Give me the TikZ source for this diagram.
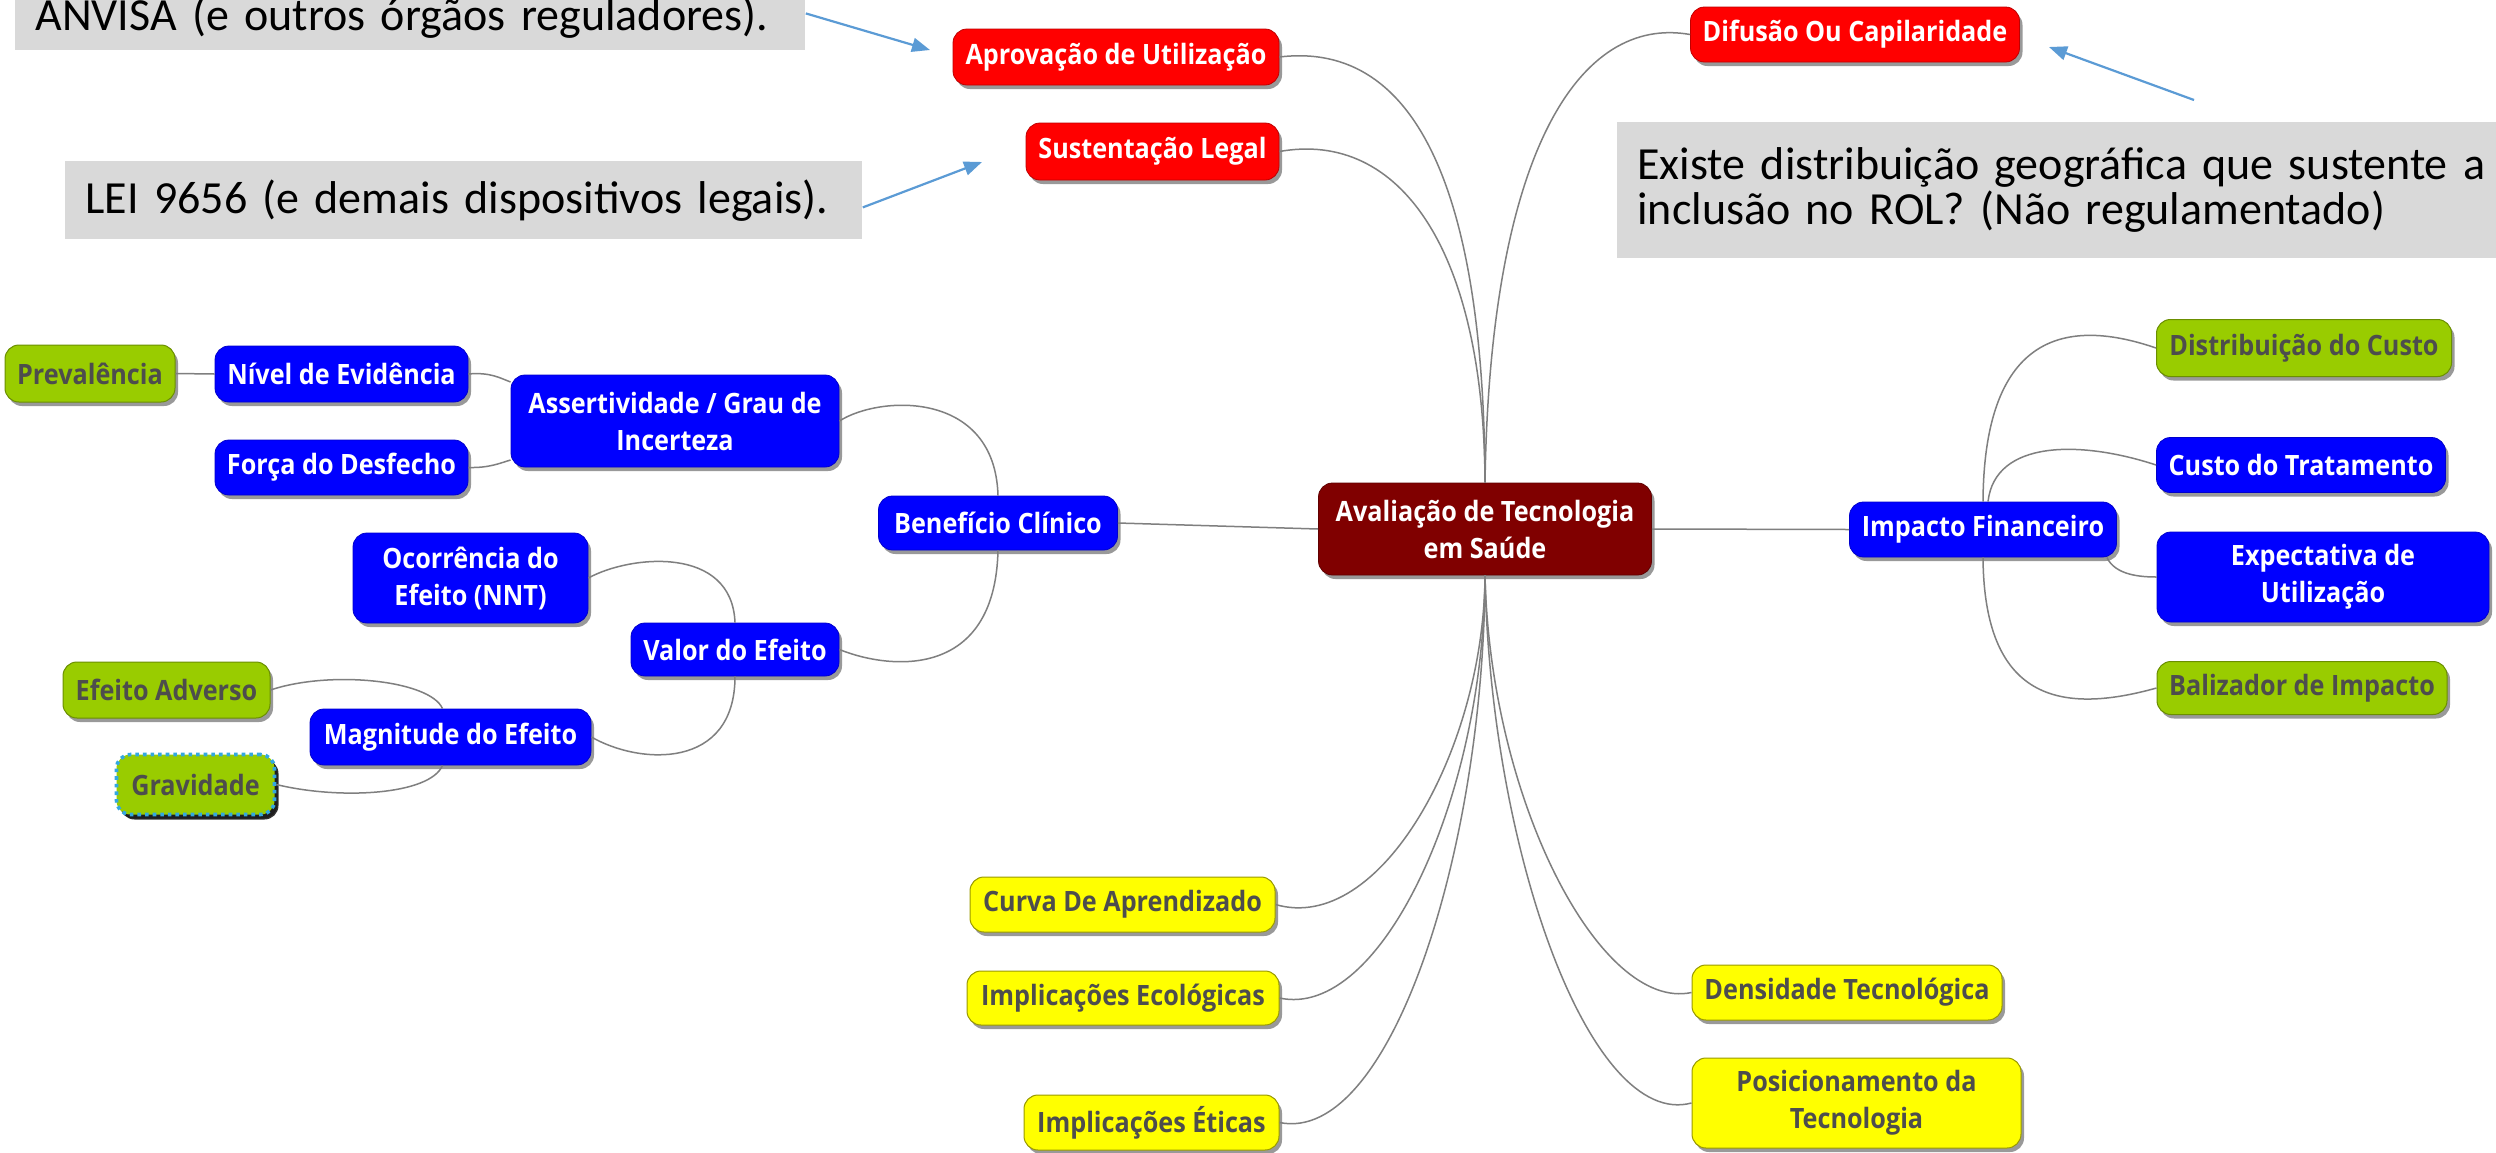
\documentclass[tikz,border=0pt]{standalone}
\usepackage{fontspec}
\setmainfont{Open Sans}
\newfontfamily\mmfont[FakeStretch=0.9]{Open Sans}
\newfontfamily\callfont{Carlito}
\usetikzlibrary{arrows.meta,shadows}
\definecolor{mred}{HTML}{FF0000}
\definecolor{mblue}{HTML}{0000FF}
\definecolor{mgreen}{HTML}{99CC00}
\definecolor{myellow}{HTML}{FFFF00}
\definecolor{mmaroon}{HTML}{800000}
\definecolor{mtext}{HTML}{4D4D4D}
\definecolor{callgray}{HTML}{D9D9D9}
\definecolor{arrowblue}{HTML}{5B9BD5}
\definecolor{linkgray}{HTML}{7F7F7F}
\definecolor{dotblue}{HTML}{33A8E0}
\tikzset{
  wh/.style 2 args={minimum width=#1*0.5pt, minimum height=#2*0.5pt},
  mm/.style={rounded corners=7pt, inner sep=0pt, align=center,
    font=\mmfont\bfseries\fontsize{14}{18.5}\selectfont,
    drop shadow={shadow xshift=1.5pt, shadow yshift=-2pt, opacity=0.4, fill=black}},
  redn/.style={mm, fill=mred, draw=mred!75!black, line width=0.4pt, text=white},
  bluen/.style={mm, fill=mblue, draw=mblue!80!black, line width=0.4pt, text=white},
  centern/.style={mm, fill=mmaroon, draw=mmaroon!75!black, line width=0.4pt, text=white},
  greenn/.style={mm, fill=mgreen, draw=mgreen!70!black, line width=0.5pt, text=mtext},
  yelln/.style={mm, fill=myellow, draw=myellow!60!black, line width=0.5pt, text=mtext},
  gravn/.style={mm, fill=mgreen, draw=dotblue, dotted, line width=1.8pt, text=mtext,
    drop shadow={shadow xshift=2pt, shadow yshift=-2.5pt, opacity=0.8, fill=black}},
  link/.style={draw=linkgray, line width=0.75pt},
  callout/.style={fill=callgray, inner xsep=10pt, inner ysep=0pt, align=left, text=black,
    font=\callfont\fontsize{23}{22.5}\selectfont},
  callarrow/.style={draw=arrowblue, line width=1.1pt, -{Triangle[length=9pt,width=7pt]}}
}
\begin{document}
\begin{tikzpicture}[x=0.5pt,y=-0.5pt]
\useasboundingbox (0,0) rectangle (2496,1152);
\clip (0,0) rectangle (2496,1152);
\fill[white] (0,0) rectangle (2496,1152);

% nodes
\node[redn, wh={326}{56}] (aprov) at (1116,57) {Aprovação de Utilização};
\node[redn, wh={253}{57}] (sust) at (1152.5,151.5) {Sustentação Legal};
\node[redn, wh={329}{55}] (difus) at (1855,34.5) {Difusão Ou Capilaridade};
\node[centern, wh={333}{92}] (avts) at (1485,529) {Avaliação de Tecnologia\\em Saúde};
\node[bluen, wh={267}{55}] (impac) at (1983,529.5) {Impacto Financeiro};
\node[greenn, wh={295}{57}] (distr) at (2304,348) {Distribuição do Custo};
\node[bluen, wh={289}{55}] (custo) at (2301,465) {Custo do Tratamento};
\node[bluen, wh={332}{90}] (expec) at (2323,577) {Expectativa de\\Utilização};
\node[greenn, wh={290}{53}] (baliz) at (2302,688) {Balizador de Impacto};
\node[bluen, wh={239}{54}] (benef) at (998,523) {Benefício Clínico};
\node[bluen, wh={328}{92}] (assert) at (675,421) {Assertividade / Grau de\\Incerteza};
\node[bluen, wh={253}{56}] (nivel) at (341.5,374) {Nível de Evidência};
\node[bluen, wh={253}{55}] (forca) at (341.5,467.5) {Força do Desfecho};
\node[greenn, wh={170}{57}] (preval) at (90,373.5) {Prevalência};
\node[bluen, wh={235}{90}] (ocorr) at (470.5,578) {Ocorrência do\\Efeito (NNT)};
\node[bluen, wh={208}{53}] (valor) at (735,649.5) {Valor do Efeito};
\node[bluen, wh={281}{56}] (magn) at (450.5,737) {Magnitude do Efeito};
\node[greenn, wh={207}{56}] (adver) at (166.5,690) {Efeito Adverso};
\node[gravn, wh={158}{60}] (grav) at (195.5,784.5) {Gravidade};
\node[yelln, wh={305}{55}] (curva) at (1122.5,904.5) {Curva De Aprendizado};
\node[yelln, wh={312}{54}] (ecol) at (1123,998) {Implicações Ecológicas};
\node[yelln, wh={255}{55}] (etic) at (1151.5,1122.5) {Implicações Éticas};
\node[yelln, wh={310}{55}] (dens) at (1847,992.5) {Densidade Tecnológica};
\node[yelln, wh={329}{90}] (posic) at (1856.5,1103) {Posicionamento da\\Tecnologia};

% connectors
\draw[link] (aprov.east) .. controls (1420,40) and (1484,200) .. (avts.north);
\draw[link] (sust.east) .. controls (1400,130) and (1484,250) .. (avts.north);
\draw[link] (difus.west) .. controls (1580,15) and (1490,150) .. (avts.north);
\draw[link] (avts.south) .. controls (1484,750) and (1380,935) .. (curva.east);
\draw[link] (avts.south) .. controls (1484,800) and (1380,1020) .. (ecol.east);
\draw[link] (avts.south) .. controls (1484,850) and (1390,1145) .. (etic.east);
\draw[link] (avts.south) .. controls (1490,800) and (1600,1012) .. (dens.west);
\draw[link] (avts.south) .. controls (1490,850) and (1590,1130) .. (posic.west);
\draw[link] (avts.east) -- (impac.west);
\draw[link] (benef.east) -- (avts.west);
\draw[link] (impac.north) .. controls (1984,340) and (2060,315) .. (distr.west);
\draw[link] ([xshift=2.5pt]impac.north) .. controls (1995,440) and (2080,440) .. (custo.west);
\draw[link] ([xshift=-5pt]impac.south east) .. controls (2115,575) and (2140,577) .. (expec.west);
\draw[link] (impac.south) .. controls (1984,700) and (2060,715) .. (baliz.west);
\draw[link] (assert.east) .. controls (880,395) and (995,390) .. (benef.north);
\draw[link] (valor.east) .. controls (890,670) and (995,680) .. (benef.south);
\draw[link] (nivel.east) .. controls (490,372) and (500,378) .. ([yshift=19.5pt]assert.west);
\draw[link] (forca.east) .. controls (490,468) and (500,463) .. ([yshift=-19.5pt]assert.west);
\draw[link] (preval.east) -- (nivel.west);
\draw[link] (ocorr.east) .. controls (630,555) and (732,545) .. (valor.north);
\draw[link] (magn.east) .. controls (640,765) and (735,770) .. (valor.south);
\draw[link] ([xshift=-4pt]magn.north) .. controls (430,680) and (330,670) .. (adver.east);
\draw[link] ([xshift=-4pt]magn.south) .. controls (430,795) and (340,800) .. (grav.east);

% callouts
\node[callout, anchor=north west, text width=375pt, minimum height=33pt] (anvisa) at (15,-16) {\mbox{ANVISA (e outros órgãos reguladores).}};
\node[callout, anchor=north west, text width=378.5pt, minimum height=39pt] (lei) at (65,161) {\mbox{LEI 9656 (e demais dispositivos legais).}};
\node[callout, anchor=north west, text width=450pt, minimum height=68pt] (existe) at (1617,122) {\mbox{Existe distribuição geográfica que sustente a}\\\mbox{inclusão no ROL? (Não regulamentado)}};

\coordinate (a1t) at (930,50);
\coordinate (a2t) at (982,162);
\coordinate (a3s) at (2194,100);
\coordinate (a3t) at (2049,47);
\draw[callarrow] ([yshift=2pt]anvisa.east) -- (a1t);
\draw[callarrow] ([yshift=-3.5pt]lei.east) -- (a2t);
\draw[callarrow] (a3s) -- (a3t);
\end{tikzpicture}
\end{document}
